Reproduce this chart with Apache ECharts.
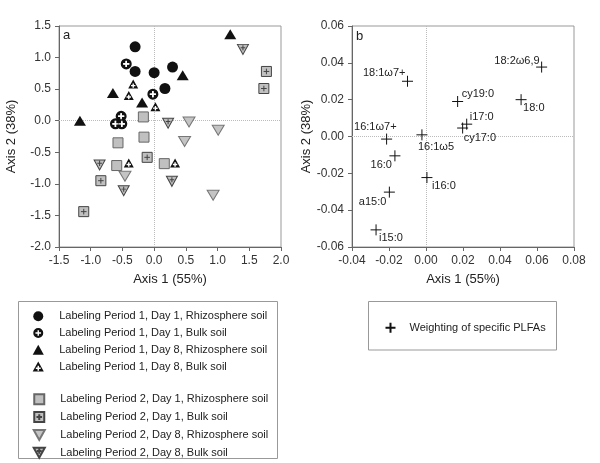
<!DOCTYPE html>
<html>
<head>
<meta charset="utf-8">
<script src="https://cdn.jsdelivr.net/npm/echarts@6/dist/echarts.min.js"></script>
<style>
  body { margin: 0; background: #fff; }
  #main { width: 600px; height: 463px; }
</style>
</head>
<body>
<div id="main"></div>
<script>
// panel a - sample scores [axis1, axis2]
var p1d1Rhizo = [[-0.30, 1.17], [-0.30, 0.78], [0.00, 0.76], [0.29, 0.85], [0.17, 0.51]];
var p1d1Bulk  = [[-0.44, 0.90], [-0.02, 0.42], [-0.52, 0.07], [-0.61, -0.05], [-0.51, -0.05]];
var p1d8Rhizo = [[-1.17, 0.00], [-0.65, 0.44], [-0.19, 0.29], [0.45, 0.72], [1.20, 1.37]];
var p1d8Bulk  = [[-0.33, 0.58], [-0.40, 0.40], [0.02, 0.22], [-0.40, -0.67], [0.33, -0.67]];
var p2d1Rhizo = [[-0.17, 0.06], [-0.16, -0.26], [-0.57, -0.35], [-0.59, -0.71], [0.16, -0.68]];
var p2d1Bulk  = [[-0.11, -0.58], [-0.84, -0.95], [-1.11, -1.44], [1.77, 0.78], [1.73, 0.51]];
var p2d8Rhizo = [[0.55, -0.02], [1.01, -0.15], [0.48, -0.33], [-0.46, -0.88], [0.93, -1.18]];
var p2d8Bulk  = [[0.22, -0.04], [1.40, 1.13], [-0.86, -0.70], [-0.48, -1.11], [0.28, -0.96]];

var groupNames = [
    'Labeling Period 1, Day 1, Rhizosphere soil',
    'Labeling Period 1, Day 1, Bulk soil',
    'Labeling Period 1, Day 8, Rhizosphere soil',
    'Labeling Period 1, Day 8, Bulk soil',
    'Labeling Period 2, Day 1, Rhizosphere soil',
    'Labeling Period 2, Day 1, Bulk soil',
    'Labeling Period 2, Day 8, Rhizosphere soil',
    'Labeling Period 2, Day 8, Bulk soil'
];

// panel b - PLFA weightings
var plfaNames = ['18:1ω7+', '18:2ω6,9', 'cy19:0', '18:0', 'i17:0', 'cy17:0', '16:1ω7+', '16:1ω5', '16:0', 'i16:0', 'a15:0', 'i15:0'];
var plfaX = [-0.010, 0.0625, 0.0171, 0.0514, 0.0220, 0.0198, -0.0213, -0.0022, -0.0168, 0.0005, -0.0198, -0.0270];
var plfaY = [0.0300, 0.0377, 0.0190, 0.0200, 0.0067, 0.0046, -0.0014, 0.0009, -0.0105, -0.0223, -0.0302, -0.0507];
var plfaLegend = 'Weighting of specific PLFAs';

// where each PLFA label sits around its cross (align, dx, dy)
var labelPlace = {
    '18:1ω7+': ['right', -2, -8],
    '18:2ω6,9': ['right', -2, -6],
    'cy19:0': ['left', 4, -7.5],
    '18:0': ['left', 2, 8],
    'i17:0': ['left', 3, -7],
    'cy17:0': ['left', 1, 10],
    '16:1ω7+': ['right', 10, -12.5],
    '16:1ω5': ['left', -4, 12],
    '16:0': ['right', -3, 9],
    'i16:0': ['left', 5, 8],
    'a15:0': ['right', -3, 9.4],
    'i15:0': ['left', 3, 8]
};

var FONT = 'Liberation Sans, Arial, sans-serif';

// marker shapes (black ones get a plus-shaped hole, grey ones a stroked plus)
var triUp = 'path://M5 0L10 9L0 9Z';
var square = 'path://M0 0H10V10H0Z';
var circleHole = 'path://M0 5A5 5 0 1 1 10 5A5 5 0 1 1 0 5Z' +
    'M4.3 2.2L4.3 4.3L2.2 4.3L2.2 5.7L4.3 5.7L4.3 7.8L5.7 7.8L5.7 5.7L7.8 5.7L7.8 4.3L5.7 4.3L5.7 2.2Z';
var triHole = 'path://M5 0L10 9L0 9Z' +
    'M4.3 3.8L4.3 5.3L2.8 5.3L2.8 6.7L4.3 6.7L4.3 8.2L5.7 8.2L5.7 6.7L7.2 6.7L7.2 5.3L5.7 5.3L5.7 3.8Z';
var whitePlus = 'path://M5 0V10M0 5H10';
var squarePlus = 'path://M0 0H10V10H0Z M5 2.2V7.8 M2.2 5H7.8';
var downTri = 'path://M0 0H10L5 9Z';
var downTriPlus = 'path://M0 0H10L5 9Z M5 0.8V5.4 M2.9 3H7.1';
var cross = 'path://M5 0V10M0 5H10';

var plfaData = plfaNames.map(function (n, i) {
    var p = labelPlace[n];
    return {
        name: n,
        value: [plfaX[i], plfaY[i]],
        label: { align: p[0], offset: [p[1], p[2]] }
    };
});

function axisCommon(fmt, margin) {
    return {
        axisLine: { show: true, onZero: false, lineStyle: { color: '#666', width: 1 } },
        axisTick: { show: true, length: 4, lineStyle: { color: '#666' } },
        axisLabel: {
            color: '#333', fontSize: 12, fontFamily: FONT, margin: margin,
            formatter: function (v) { return v.toFixed(fmt); }
        },
        splitLine: { show: false },
        nameLocation: 'middle',
        nameTextStyle: { color: '#222', fontSize: 13, fontFamily: FONT }
    };
}

// dotted reference lines through zero, kept behind the markers
function zeroLines() {
    return {
        silent: true,
        z: 1,
        symbol: 'none',
        label: { show: false },
        lineStyle: { type: 'dotted', color: '#bbb', width: 1 },
        data: [{ xAxis: 0 }, { yAxis: 0 }]
    };
}

var myChart = echarts.init(document.getElementById('main'));
var option = {
    animation: false,
    textStyle: { fontFamily: FONT },
    title: [
        { text: 'a', left: 63, top: 29, padding: 0, textStyle: { fontSize: 13, fontWeight: 'normal', color: '#222' } },
        { text: 'b', left: 356, top: 30, padding: 0, textStyle: { fontSize: 13, fontWeight: 'normal', color: '#222' } }
    ],
    grid: [
        { left: 59, right: 319, top: 26, bottom: 216, show: true, borderColor: '#999', borderWidth: 1 },
        { left: 352, right: 26, top: 26, bottom: 216, show: true, borderColor: '#999', borderWidth: 1 }
    ],
    xAxis: [
        Object.assign(axisCommon(1, 8), { gridIndex: 0, type: 'value', min: -1.5, max: 2.0, interval: 0.5, name: 'Axis 1 (55%)', nameGap: 26 }),
        Object.assign(axisCommon(2, 8), { gridIndex: 1, type: 'value', min: -0.04, max: 0.08, interval: 0.02, name: 'Axis 1 (55%)', nameGap: 26 })
    ],
    yAxis: [
        Object.assign(axisCommon(1, 8), { gridIndex: 0, type: 'value', min: -2.0, max: 1.5, interval: 0.5, name: 'Axis 2 (38%)', nameGap: 41 }),
        Object.assign(axisCommon(2, 8), { gridIndex: 1, type: 'value', min: -0.06, max: 0.06, interval: 0.02, name: 'Axis 2 (38%)', nameGap: 38 })
    ],
    legend: [
        {
            data: groupNames.slice(0, 4), orient: 'vertical', left: 32.7, top: 310.7, padding: 0,
            itemWidth: 32, itemHeight: 10, itemGap: 5.8, selectedMode: false,
            textStyle: { fontSize: 11, lineHeight: 10, color: '#222', fontFamily: FONT }
        },
        {
            data: groupNames.slice(4), orient: 'vertical', left: 32.7, top: 393.3, padding: 0,
            itemWidth: 32, itemHeight: 10, itemGap: 5.8, selectedMode: false,
            textStyle: { fontSize: 11, lineHeight: 10, color: '#222', fontFamily: FONT }
        },
        {
            data: [plfaLegend], orient: 'vertical', left: 384.5, top: 321.7, padding: 0,
            itemWidth: 28, itemHeight: 10, selectedMode: false,
            textStyle: { fontSize: 11, lineHeight: 10, color: '#222', fontFamily: FONT }
        }
    ],
    graphic: [
        { type: 'rect', shape: { x: 18.5, y: 301.5, width: 259, height: 157 }, style: { fill: 'none', stroke: '#999', lineWidth: 1 } },
        { type: 'rect', shape: { x: 368.5, y: 301.5, width: 188, height: 48.5 }, style: { fill: 'none', stroke: '#999', lineWidth: 1 } }
    ],
    series: [
        {
            name: groupNames[4], type: 'scatter', xAxisIndex: 0, yAxisIndex: 0,
            data: p2d1Rhizo, symbol: square, symbolSize: 10,
            itemStyle: { color: '#c0c0c0', borderColor: '#666', borderWidth: 1, opacity: 1 },
            markLine: zeroLines()
        },
        {
            name: groupNames[5], type: 'scatter', xAxisIndex: 0, yAxisIndex: 0,
            data: p2d1Bulk, symbol: squarePlus, symbolSize: 10,
            itemStyle: { color: '#c0c0c0', borderColor: '#444', borderWidth: 1, opacity: 1 }
        },
        {
            name: groupNames[6], type: 'scatter', xAxisIndex: 0, yAxisIndex: 0,
            data: p2d8Rhizo, symbol: downTri, symbolSize: [12, 10],
            itemStyle: { color: '#c4c4c4', borderColor: '#777', borderWidth: 1, opacity: 1 }
        },
        {
            name: groupNames[7], type: 'scatter', xAxisIndex: 0, yAxisIndex: 0,
            data: p2d8Bulk, symbol: downTriPlus, symbolSize: [11, 10],
            itemStyle: { color: '#bdbdbd', borderColor: '#444', borderWidth: 1, opacity: 1 }
        },
        {
            name: groupNames[0], type: 'scatter', xAxisIndex: 0, yAxisIndex: 0,
            data: p1d1Rhizo, symbol: 'circle', symbolSize: 11,
            itemStyle: { color: '#111', opacity: 1 }
        },
        {
            name: groupNames[2], type: 'scatter', xAxisIndex: 0, yAxisIndex: 0,
            data: p1d8Rhizo, symbol: triUp, symbolSize: [12, 10],
            itemStyle: { color: '#111', opacity: 1 }
        },
        {
            name: groupNames[1], type: 'scatter', xAxisIndex: 0, yAxisIndex: 0,
            data: p1d1Bulk, symbol: circleHole, symbolSize: 11,
            itemStyle: { color: '#111', opacity: 1 }
        },
        {
            // white plus drawn on top so it stays visible where circles overlap
            name: groupNames[1], type: 'scatter', xAxisIndex: 0, yAxisIndex: 0,
            data: p1d1Bulk, symbol: whitePlus, symbolSize: 6,
            itemStyle: { color: '#fff', borderColor: '#fff', borderWidth: 1.4, opacity: 1 }
        },
        {
            name: groupNames[3], type: 'scatter', xAxisIndex: 0, yAxisIndex: 0,
            data: p1d8Bulk, symbol: triHole, symbolSize: [10, 9],
            itemStyle: { color: '#111', opacity: 1 }
        },
        {
            name: plfaLegend, type: 'scatter', xAxisIndex: 1, yAxisIndex: 1,
            data: plfaData, symbol: cross, symbolSize: 11,
            itemStyle: { color: '#111', borderColor: '#111', borderWidth: 1, opacity: 1 },
            label: {
                show: true, position: 'inside', verticalAlign: 'middle',
                formatter: '{b}', fontSize: 11, color: '#222', fontFamily: FONT
            },
            markLine: zeroLines()
        }
    ]
};
myChart.setOption(option);
</script>
</body>
</html>
